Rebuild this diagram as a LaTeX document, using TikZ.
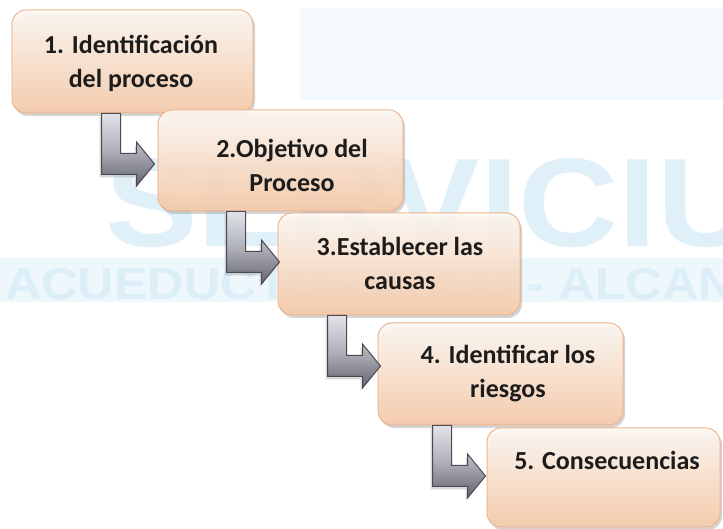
\documentclass[tikz,border=0pt]{standalone}
\usepackage{fontspec}
\setmainfont{Carlito}
\newfontfamily\wmfont{Liberation Sans}
\usetikzlibrary{shadows,calc}
\definecolor{boxtop}{HTML}{FFF9F4}
\definecolor{boxbot}{HTML}{F7CBA9}
\definecolor{boxline}{HTML}{EBB590}
\definecolor{arrtop}{HTML}{E2E2E8}
\definecolor{arrmid}{HTML}{B0B0BA}
\definecolor{arrbot}{HTML}{646470}
\definecolor{arrline}{HTML}{4A4A52}
\definecolor{wmband}{HTML}{EEF7FC}
\definecolor{wmtext}{HTML}{E0F0F9}
\definecolor{wmtextb}{HTML}{DCEEF8}
\definecolor{wmtop}{HTML}{F3F9FC}
\definecolor{txt}{HTML}{1C1C1C}
\begin{document}
\begin{tikzpicture}[x=1pt,y=1pt,
  stepbox/.style 2 args={draw=boxline, line width=1pt, rounded corners=14pt,
    top color=boxtop, bottom color=boxbot, fill opacity=0.9,
    minimum width=#1, minimum height=#2, inner sep=0pt,
    drop shadow={shadow xshift=2pt, shadow yshift=-3pt, opacity=0.28, fill=black!60}},
  steptext/.style={font=\bfseries\fontsize{26}{34}\selectfont, align=center, text=txt, inner sep=0pt},
  bentarr/.style={draw=arrline, line width=1pt, line join=miter,
    top color=arrtop, bottom color=arrbot, middle color=arrmid,
    drop shadow={shadow xshift=-2pt, shadow yshift=-3pt, opacity=0.3, fill=black!50}},
  wmstyle/.style={text=wmtext, inner sep=0pt, anchor=base west}
]
\useasboundingbox (0,0) rectangle (723,529);
\fill[white] (0,0) rectangle (723,529);
% watermark
\fill[wmtop] (300,521) rectangle (723,429);
\node[wmstyle] (wm1) at (105,282) {\scalebox{1.1}[1]{\wmfont\bfseries\fontsize{126}{126}\selectfont SERVICIU}};
\fill[wmband] (0,271) rectangle (723,227);
\node[wmstyle, text=wmtextb] (wm2) at (5,229) {\scalebox{1.12}[1]{\wmfont\bfseries\fontsize{45}{45}\selectfont ACUEDUCTO - ASEO - ALCAN}};
% boxes
\node[stepbox={241pt}{103pt}] (b1) at (132.5,467.5) {};
\node[stepbox={245pt}{101pt}] (b2) at (280.5,368.5) {};
\node[stepbox={242pt}{102pt}] (b3) at (399,265) {};
\node[stepbox={245pt}{102pt}] (b4) at (500.5,155) {};
\node[stepbox={233pt}{99pt}] (b5) at (603.5,51.5) {};
% texts
\node[steptext] (t1) at ([shift={(-1.5,-2)}]b1.center) {1. Identificación\\del proceso};
\node[steptext] (t2) at ([shift={(11.5,-5)}]b2.center) {2.Objetivo del\\Proceso};
\node[steptext] (t3) at ([shift={(1,1)}]b3.center) {3.Establecer las\\causas};
\node[steptext] (t4) at ([shift={(7.5,0)}]b4.center) {4. Identificar los\\riesgos};
\node[steptext] (t5) at ([shift={(3.5,17.5)}]b5.center) {5. Consecuencias};
% bent arrows
\draw[bentarr] ([xshift=90pt]b1.south west) -- ++(19,0) -- ++(0,-40) -- ++(16,0) -- ++(0,11.5) -- ++(18,-22) -- ++(-18,-22) -- ++(0,11.5) -- ++(-35,0) -- cycle;
\draw[bentarr] ([xshift=69pt]b2.south west) -- ++(19,0) -- ++(0,-40) -- ++(16,0) -- ++(0,11.5) -- ++(18,-22) -- ++(-18,-22) -- ++(0,11.5) -- ++(-35,0) -- cycle;
\draw[bentarr] ([xshift=50pt]b3.south west) -- ++(19,0) -- ++(0,-40) -- ++(16,0) -- ++(0,11.5) -- ++(18,-22) -- ++(-18,-22) -- ++(0,11.5) -- ++(-35,0) -- cycle;
\draw[bentarr] ([xshift=55pt]b4.south west) -- ++(19,0) -- ++(0,-40) -- ++(16,0) -- ++(0,11.5) -- ++(18,-22) -- ++(-18,-22) -- ++(0,11.5) -- ++(-35,0) -- cycle;
\end{tikzpicture}
\end{document}
